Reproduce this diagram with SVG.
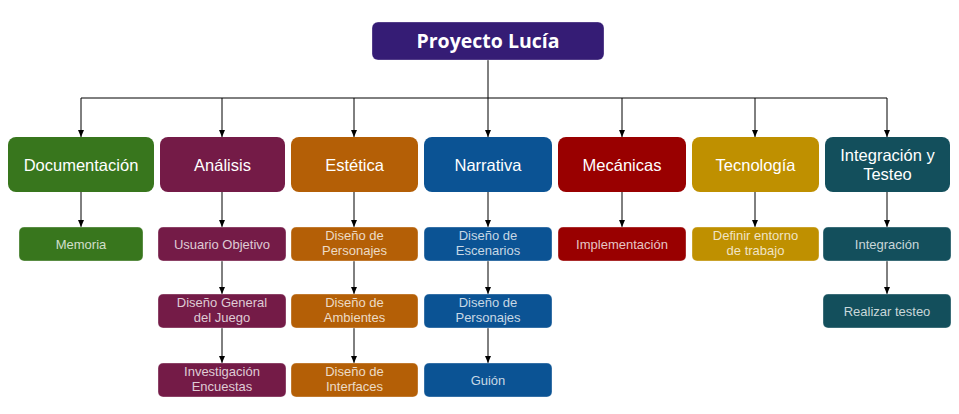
<svg xmlns="http://www.w3.org/2000/svg" width="959" height="414" viewBox="0 0 959 414">
<defs>
<marker id="ah" markerWidth="8" markerHeight="8" refX="7" refY="3.5" orient="auto" markerUnits="userSpaceOnUse">
<path d="M0,0.5 L7,3.5 L0,6.5 Z" fill="#000"/>
</marker>
<style>
.c{stroke:#000;stroke-width:1;fill:none}
.a{marker-end:url(#ah)}
.t0{font-family:"Open Sans","Liberation Sans",sans-serif;font-weight:700;font-size:19.5px;fill:#fff;text-anchor:middle}
.t1{font-family:"Liberation Sans",Arial,sans-serif;font-size:16.5px;fill:#fff;text-anchor:middle}
.t2{font-family:"Liberation Sans",Arial,sans-serif;font-size:13px;fill:#ffffff;fill-opacity:0.78;text-anchor:middle}
.b1{rx:8;ry:8}
.b2{rx:5;ry:5;stroke:#ffffff;stroke-opacity:0.35;stroke-width:1}
.g{fill:#38761d}.p{fill:#741b47}.o{fill:#b45f06}.bl{fill:#0b5394}.r{fill:#990000}.y{fill:#bf9000}.tl{fill:#134f5c}
</style>
</defs>
<g id="connectors">
<path class="c" d="M488,60 V98 M81,98 H887"/>
<path class="c a" d="M81,98 V137"/>
<path class="c a" d="M222,98 V137"/>
<path class="c a" d="M354,98 V137"/>
<path class="c a" d="M488,98 V137"/>
<path class="c a" d="M622,98 V137"/>
<path class="c a" d="M755,98 V137"/>
<path class="c a" d="M887,98 V137"/>
<path class="c a" d="M81,192 V227"/>
<path class="c a" d="M222,192 V227"/>
<path class="c a" d="M354,192 V227"/>
<path class="c a" d="M488,192 V227"/>
<path class="c a" d="M622,192 V227"/>
<path class="c a" d="M755,192 V227"/>
<path class="c a" d="M887,192 V227"/>
<path class="c a" d="M222,261 V294"/>
<path class="c a" d="M354,261 V294"/>
<path class="c a" d="M488,261 V294"/>
<path class="c a" d="M887,261 V294"/>
<path class="c a" d="M222,328 V363"/>
<path class="c a" d="M354,328 V363"/>
<path class="c a" d="M488,328 V363"/>
</g>
<g id="root"><rect x="372" y="22" width="232" height="38" rx="6" fill="#351c75" stroke="#fff" stroke-opacity="0.3"/><text class="t0" x="488" y="48">Proyecto Lucía</text></g>
<g id="documentacion"><rect class="b1 g" x="8" y="137" width="146" height="55"/><text class="t1" x="81" y="170.5">Documentación</text></g>
<g id="analisis"><rect class="b1 p" x="160" y="137" width="125" height="55"/><text class="t1" x="222.5" y="170.5">Análisis</text></g>
<g id="estetica"><rect class="b1 o" x="291" y="137" width="127" height="55"/><text class="t1" x="354.5" y="170.5">Estética</text></g>
<g id="narrativa"><rect class="b1 bl" x="424" y="137" width="128" height="55"/><text class="t1" x="488" y="170.5">Narrativa</text></g>
<g id="mecanicas"><rect class="b1 r" x="558" y="137" width="128" height="55"/><text class="t1" x="622" y="170.5">Mecánicas</text></g>
<g id="tecnologia"><rect class="b1 y" x="692" y="137" width="127" height="55"/><text class="t1" x="755.5" y="170.5">Tecnología</text></g>
<g id="integracion-testeo"><rect class="b1 tl" x="825" y="137" width="125" height="55"/><text class="t1" x="887.5" y="160.5"><tspan x="887.5">Integración y</tspan><tspan x="887.5" dy="19">Testeo</tspan></text></g>
<g id="memoria"><rect class="b2 g" x="19" y="227" width="124" height="34"/><text class="t2" x="81" y="248.5">Memoria</text></g>
<g id="usuario-objetivo"><rect class="b2 p" x="158" y="227" width="128" height="34"/><text class="t2" x="222" y="248.5">Usuario Objetivo</text></g>
<g id="diseno-general"><rect class="b2 p" x="158" y="294" width="128" height="34"/><text class="t2" x="222" y="307"><tspan x="222">Diseño General</tspan><tspan x="222" dy="15">del Juego</tspan></text></g>
<g id="investigacion"><rect class="b2 p" x="158" y="363" width="128" height="34"/><text class="t2" x="222" y="376"><tspan x="222">Investigación</tspan><tspan x="222" dy="15">Encuestas</tspan></text></g>
<g id="diseno-personajes-e"><rect class="b2 o" x="291" y="227" width="127" height="34"/><text class="t2" x="354.5" y="240"><tspan x="354.5">Diseño de</tspan><tspan x="354.5" dy="15">Personajes</tspan></text></g>
<g id="diseno-ambientes"><rect class="b2 o" x="291" y="294" width="127" height="34"/><text class="t2" x="354.5" y="307"><tspan x="354.5">Diseño de</tspan><tspan x="354.5" dy="15">Ambientes</tspan></text></g>
<g id="diseno-interfaces"><rect class="b2 o" x="291" y="363" width="127" height="34"/><text class="t2" x="354.5" y="376"><tspan x="354.5">Diseño de</tspan><tspan x="354.5" dy="15">Interfaces</tspan></text></g>
<g id="diseno-escenarios"><rect class="b2 bl" x="424" y="227" width="128" height="34"/><text class="t2" x="488" y="240"><tspan x="488">Diseño de</tspan><tspan x="488" dy="15">Escenarios</tspan></text></g>
<g id="diseno-personajes-n"><rect class="b2 bl" x="424" y="294" width="128" height="34"/><text class="t2" x="488" y="307"><tspan x="488">Diseño de</tspan><tspan x="488" dy="15">Personajes</tspan></text></g>
<g id="guion"><rect class="b2 bl" x="424" y="363" width="128" height="34"/><text class="t2" x="488" y="384.5">Guión</text></g>
<g id="implementacion"><rect class="b2 r" x="558" y="227" width="128" height="34"/><text class="t2" x="622" y="248.5">Implementación</text></g>
<g id="definir-entorno"><rect class="b2 y" x="692" y="227" width="127" height="34"/><text class="t2" x="755.5" y="240"><tspan x="755.5">Definir entorno</tspan><tspan x="755.5" dy="15">de trabajo</tspan></text></g>
<g id="integracion"><rect class="b2 tl" x="823" y="227" width="128" height="34"/><text class="t2" x="887" y="248.5">Integración</text></g>
<g id="realizar-testeo"><rect class="b2 tl" x="823" y="294" width="128" height="34"/><text class="t2" x="887" y="315.5">Realizar testeo</text></g>
</svg>
